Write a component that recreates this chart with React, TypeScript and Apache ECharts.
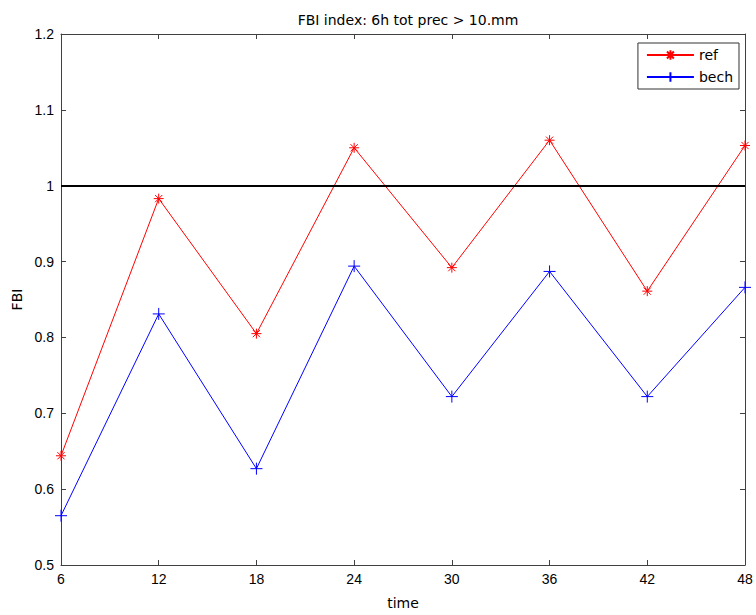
import React, { useEffect, useRef } from "react";
import * as echarts from "echarts";

const times = [6, 12, 18, 24, 30, 36, 42, 48];
const refValues = [0.644, 0.983, 0.805, 1.05, 0.892, 1.06, 0.861, 1.053];
const bechValues = [0.565, 0.831, 0.627, 0.894, 0.722, 0.887, 0.722, 0.866];
const referenceLevel = 1;

const FONT = "DejaVu Sans, Liberation Sans, Arial, sans-serif";
const TICK_FONT = "Liberation Sans, Arial, sans-serif";
const ASTERISK = "path://M0,-5L0,5M-5,0L5,0M-3.6,-3.6L3.6,3.6M-3.6,3.6L3.6,-3.6";
const PLUS = "path://M0,-6L0,6M-6,0L6,0";

export default function App() {
  const ref = useRef<HTMLDivElement>(null);
  useEffect(() => {
    if (!ref.current) return;
    const chart = echarts.init(ref.current, null, { renderer: "svg" });
    const axisLine = { show: true, lineStyle: { color: "#404040", width: 1 } };
    const tick = { show: true, inside: true, length: 5, lineStyle: { color: "#404040" } };
    chart.setOption({
      animation: false,
      backgroundColor: "#fff",
      textStyle: { fontFamily: FONT },
      title: {
        text: "FBI index: 6h tot prec > 10.mm",
        left: 403,
        top: 8,
        textAlign: "center",
        textStyle: { fontSize: 14, fontWeight: "normal", color: "#000", fontFamily: FONT },
      },
      grid: { left: 61, right: 11, top: 34, bottom: 41 },
      legend: {
        right: 17,
        top: 43,
        orient: "vertical",
        itemWidth: 47,
        itemHeight: 12,
        itemGap: 8,
        padding: [5, 6, 5, 8],
        borderColor: "#333",
        borderWidth: 1,
        backgroundColor: "#fff",
        textStyle: { fontSize: 14, color: "#000", fontFamily: FONT },
        data: ["ref", "bech"],
      },
      xAxis: [
        {
          type: "value",
          min: 6,
          max: 48,
          interval: 6,
          position: "bottom",
          name: "time",
          nameLocation: "middle",
          nameGap: 31,
          nameTextStyle: { fontSize: 14, color: "#000", fontFamily: FONT },
          axisLine,
          axisTick: tick,
          axisLabel: { fontSize: 14, color: "#000", margin: 7, fontFamily: TICK_FONT },
          splitLine: { show: false },
        },
        {
          type: "value",
          min: 6,
          max: 48,
          interval: 6,
          position: "top",
          axisLine,
          axisTick: tick,
          axisLabel: { show: false },
          splitLine: { show: false },
        },
      ],
      yAxis: [
        {
          type: "value",
          min: 0.5,
          max: 1.2,
          interval: 0.1,
          position: "left",
          name: "FBI",
          nameLocation: "middle",
          nameGap: 36,
          nameTextStyle: { fontSize: 14, color: "#000", fontFamily: FONT },
          axisLine,
          axisTick: tick,
          axisLabel: {
            fontSize: 14,
            color: "#000",
            margin: 7,
            fontFamily: TICK_FONT,
            formatter: (v: number) => String(Math.round(v * 10) / 10),
          },
          splitLine: { show: false },
        },
        {
          type: "value",
          min: 0.5,
          max: 1.2,
          interval: 0.1,
          position: "right",
          axisLine,
          axisTick: tick,
          axisLabel: { show: false },
          splitLine: { show: false },
        },
      ],
      series: [
        {
          name: "ref",
          type: "line",
          data: times.map((t, i) => [t, refValues[i]]),
          symbol: ASTERISK,
          symbolSize: 10,
          showAllSymbol: true,
          lineStyle: { color: "#ff0000", width: 1 },
          itemStyle: { color: "#ff0000", borderColor: "#ff0000", borderWidth: 1 },
          clip: false,
          markLine: {
            silent: true,
            symbol: "none",
            label: { show: false },
            lineStyle: { color: "#000", width: 2, type: "solid" },
            data: [{ yAxis: referenceLevel }],
          },
        },
        {
          name: "bech",
          type: "line",
          data: times.map((t, i) => [t, bechValues[i]]),
          symbol: PLUS,
          symbolSize: 12,
          showAllSymbol: true,
          lineStyle: { color: "#0000ff", width: 1 },
          itemStyle: { color: "#0000ff", borderColor: "#0000ff", borderWidth: 1 },
          clip: false,
        },
      ],
    });
    return () => chart.dispose();
  }, []);
  return <div ref={ref} style={{ width: 756, height: 615, position: "absolute", left: 0, top: 0 }} />;
}
